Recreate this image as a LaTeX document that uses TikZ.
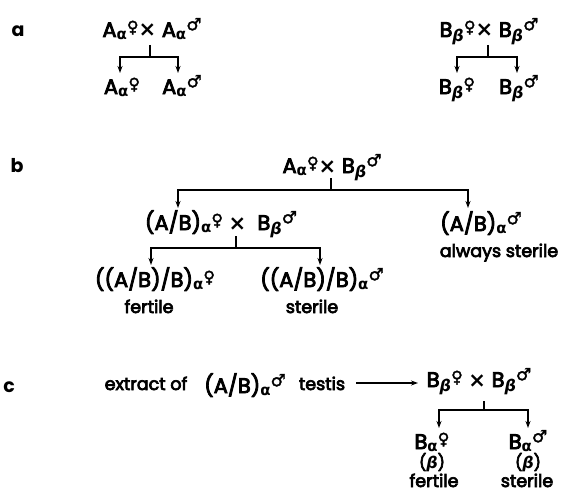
\documentclass[tikz,border=0pt]{standalone}
\usepackage{fontspec}
\setmainfont{Poppins}
\newfontfamily\medf{Poppins}[FakeBold=4]
\newfontfamily\symf{DejaVu Sans}
\newfontfamily\symb{DejaVu Sans}[FakeBold=2]
\usetikzlibrary{arrows.meta}
\newcommand{\fe}{\raisebox{0.22em}{\fontsize{16}{16}\selectfont\symb ♀}}
\newcommand{\ma}{\raisebox{0.32em}{\fontsize{17}{17}\selectfont\symb ♂}}
\newcommand{\al}{\raisebox{-0.12em}{\fontsize{15}{15}\selectfont\symf\bfseries α}}
\newcommand{\be}{\raisebox{-0.2em}{\fontsize{16}{16}\selectfont\symf\bfseries\itshape β}}
\newcommand{\tms}{{\symf\bfseries ×}}
\tikzset{
 big/.style={font=\fontsize{21}{24}\medf, anchor=base, inner sep=0pt},
 small/.style={font=\fontsize{17.5}{20}\medf, anchor=base, inner sep=0pt},
 lab/.style={font=\fontsize{19}{20}\selectfont\bfseries, anchor=base, inner sep=0pt},
 ln/.style={line width=1.5pt},
 arr/.style={line width=1.5pt, -{Stealth[length=7pt,width=5pt]}},
}
\begin{document}
\begin{tikzpicture}[x=1pt,y=-1pt]
\useasboundingbox (0,0) rectangle (562,495);
% ---- a
\node[lab] (la) at (18,37) {a};
\node[big] (pa) at (152,37) {A\al\fe\tms\ A\al\ma};
\node[big] (ca1) at (122,94) {A\al\fe};
\node[big] (ca2) at (182,94) {A\al\ma};
\coordinate (sa) at (150,45); \coordinate (ja) at (150,57);
\coordinate (ta1) at (120,73); \coordinate (ta2) at (178,73);
\draw[ln] (sa) -- (ja);
\draw[arr] (ja) -| (ta1);
\draw[arr] (ja) -| (ta2);
\node[big] (pb) at (489,37) {B\be\fe\tms\ B\be\ma};
\node[big] (cb1) at (457,94) {B\be\fe};
\node[big] (cb2) at (519,94) {B\be\ma};
\coordinate (sb) at (488,45); \coordinate (jb) at (488,57);
\coordinate (tb1) at (457,73); \coordinate (tb2) at (517,73);
\draw[ln] (sb) -- (jb);
\draw[arr] (jb) -| (tb1);
\draw[arr] (jb) -| (tb2);
% ---- b
\node[lab] (lb) at (17,172) {b};
\node[big] (pc) at (332,173) {A\al\fe\tms\ B\be\ma};
\coordinate (sc) at (331,178); \coordinate (jc) at (331,190);
\coordinate (tc1) at (178,208); \coordinate (tc2) at (468,208);
\draw[ln] (sc) -- (jc);
\draw[arr] (jc) -| (tc1);
\draw[arr] (jc) -| (tc2);
\node[big] (pd) at (221,230) {(A/B)\al\fe\ \tms\ \ B\be\ma};
\node[big] (pe) at (481,231) {(A/B)\al\ma};
\node[small] (pe2) at (499,257) {always sterile};
\coordinate (sd) at (236,236); \coordinate (jd) at (236,248);
\coordinate (td1) at (151,265); \coordinate (td2) at (320,265);
\draw[ln] (sd) -- (jd);
\draw[arr] (jd) -| (td1);
\draw[arr] (jd) -| (td2);
\node[big] (cd1) at (155,287) {((A/B)/B)\al\fe};
\node[big] (cd2) at (322,287) {((A/B)/B)\al\ma};
\node[small] (f1) at (149,313) {fertile};
\node[small] (s1) at (312,313) {sterile};
% ---- c
\node[lab] (lc) at (9,392) {c};
\node[small] (ex) at (146,390) {extract of};
\node[big] (ab) at (245,393) {(A/B)\al\ma};
\node[small] (ts) at (322,390) {testis};
\coordinate (ea) at (356,383); \coordinate (eb) at (418,383);
\draw[arr] (ea) -- (eb);
\node[big] (pg) at (479,387) {B\be\fe\ \tms\ B\be\ma};
\coordinate (sg) at (484,401); \coordinate (jg) at (484,410);
\coordinate (tg1) at (439,428); \coordinate (tg2) at (528,428);
\draw[ln] (sg) -- (jg);
\draw[arr] (jg) -| (tg1);
\draw[arr] (jg) -| (tg2);
\node[big] (cg1) at (432,449) {B\al\fe};
\node[big] (cg2) at (528,449) {B\al\ma};
\node[small, font=\fontsize{16}{18}\medf] (bt1) at (432,468) {({\symf\bfseries\itshape β})};
\node[small, font=\fontsize{16}{18}\medf] (bt2) at (528,468) {({\symf\bfseries\itshape β})};
\node[small] (f2) at (434,487) {fertile};
\node[small] (s2) at (527,487) {sterile};
\end{tikzpicture}
\end{document}
